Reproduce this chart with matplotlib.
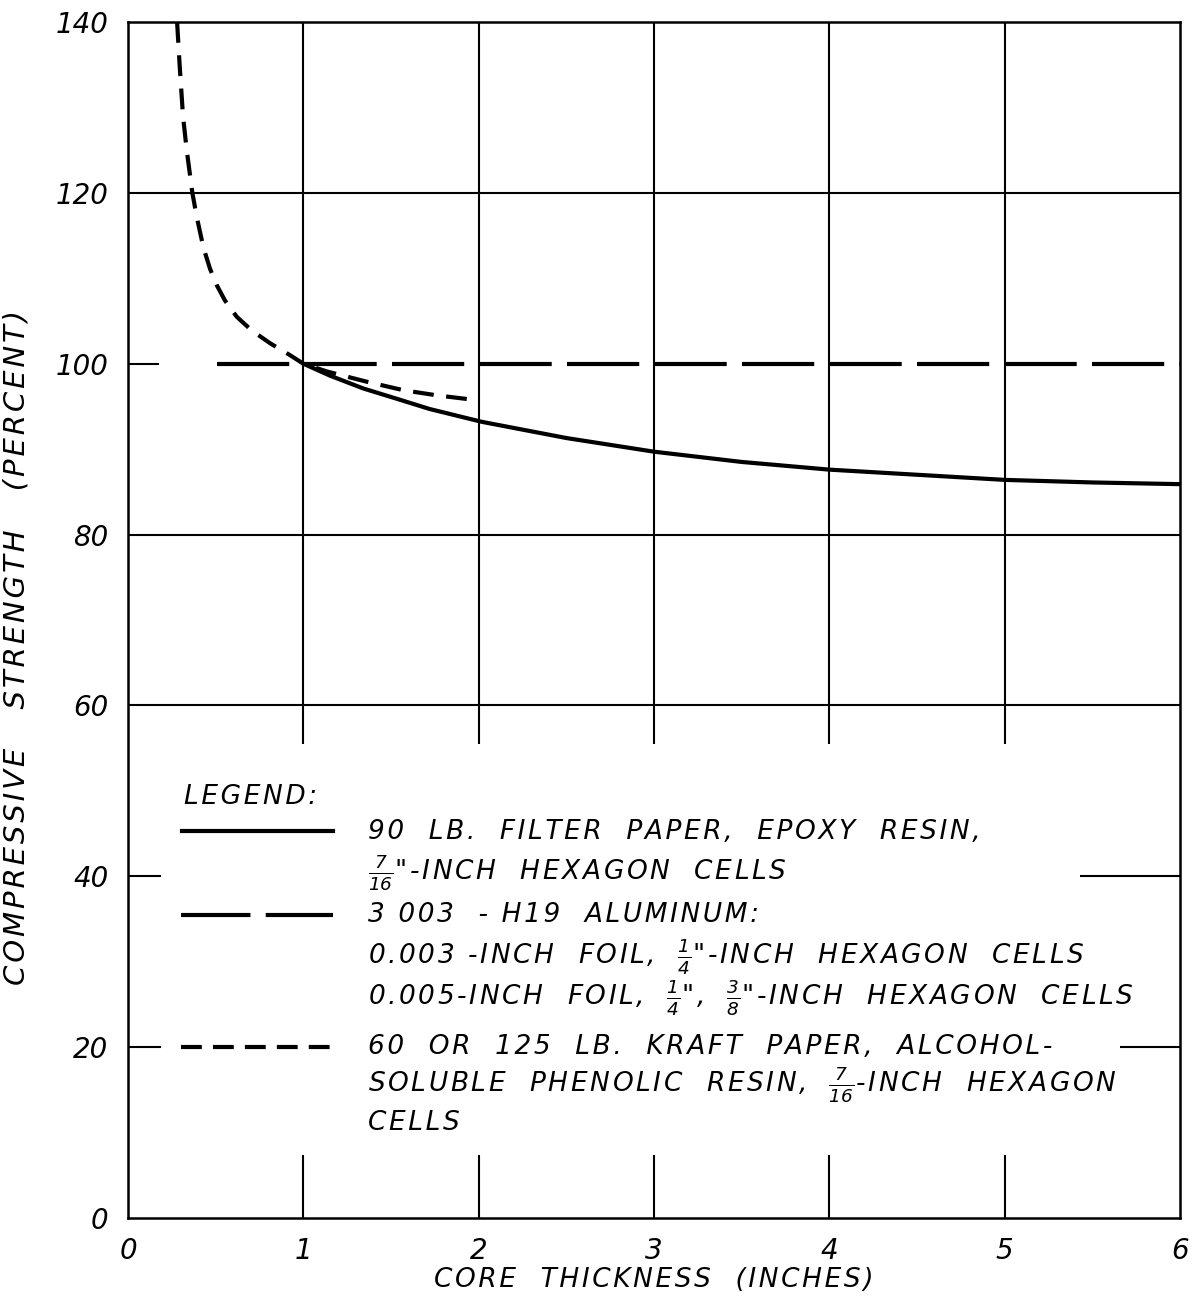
import matplotlib.pyplot as plt
from matplotlib.patches import Rectangle

plt.rcParams['font.family'] = ['DejaVu Sans']
plt.rcParams['font.style'] = 'italic'
plt.rcParams['mathtext.fontset'] = 'dejavusans'
plt.rcParams['mathtext.default'] = 'it'
plt.rcParams['lines.scale_dashes'] = False

# 90 lb filter paper, epoxy resin
filter_x = [1.0, 1.152, 1.342, 1.532, 1.72, 2.017, 2.5, 3.0, 3.5, 4.0, 4.5, 5.0, 5.5, 6.0]
filter_y = [100.0, 98.6, 97.1, 95.9, 94.7, 93.2, 91.3, 89.7, 88.5, 87.6, 87.0, 86.4, 86.1, 85.9]

# 3003-H19 aluminum
alum_x = [0.51, 6.0]
alum_y = [100.0, 100.0]

# 60 or 125 lb kraft paper, phenolic resin
kraft_x = [0.28, 0.295, 0.314, 0.335, 0.367, 0.392, 0.43, 0.468, 0.506, 0.553,
           0.62, 0.705, 0.81, 0.924, 1.0, 1.133, 1.36, 1.57, 1.76, 2.0]
kraft_y = [140.0, 134.8, 128.9, 125.0, 120.0, 117.2, 113.6, 111.1, 109.2, 107.4,
           105.5, 103.9, 102.4, 101.0, 100.0, 99.1, 97.9, 96.9, 96.3, 95.7]

x_ticks = [0, 1, 2, 3, 4, 5, 6]
y_ticks = [0, 20, 40, 60, 80, 100, 120, 140]

legend_lines = [
    "90  LB.  FILTER  PAPER,  EPOXY  RESIN,",
    r'$\frac{7}{16}$"-INCH  HEXAGON  CELLS',
    "3 003  - H19  ALUMINUM:",
    r'0.003 -INCH  FOIL,  $\frac{1}{4}$"-INCH  HEXAGON  CELLS',
    r'0.005-INCH  FOIL,  $\frac{1}{4}$",  $\frac{3}{8}$"-INCH  HEXAGON  CELLS',
    "60  OR  125  LB.  KRAFT  PAPER,  ALCOHOL-",
    r"SOLUBLE  PHENOLIC  RESIN,  $\frac{7}{16}$-INCH  HEXAGON",
    "CELLS",
]
legend_line_y = [45.2, 40.4, 35.5, 30.6, 25.8, 20.0, 15.6, 11.1]


def spaced(s, gap='\u200a'):
    # open up the lettering, leaving math parts alone
    parts = s.split('$')
    return '$'.join(gap.join(p) if i % 2 == 0 else p
                    for i, p in enumerate(parts))


fig = plt.figure(figsize=(11.94, 13.01), dpi=100)
ax = fig.add_axes([0.1072, 0.0638, 0.8811, 0.9193])

ax.set_xlim(0, 6)
ax.set_ylim(0, 140)
ax.set_xticks(x_ticks)
ax.set_yticks(y_ticks)
ax.set_xticklabels([str(v) for v in x_ticks], fontsize=20)
ax.set_yticklabels([str(v) for v in y_ticks], fontsize=20)
ax.tick_params(length=0, pad=14)

for s in ax.spines.values():
    s.set_linewidth(1.8)

# grid, broken where the legend sits
for xv in x_ticks[1:-1]:
    ax.axvline(xv, color='black', lw=1.5, zorder=1)
for yv in [20, 40, 60, 80, 120]:
    ax.axhline(yv, color='black', lw=1.5, zorder=1)
ax.plot([0, 0.17], [100, 100], color='black', lw=1.5, zorder=1)
ax.add_patch(Rectangle((0.19, 7.4), 5.24, 48.1, facecolor='white',
                       edgecolor='none', zorder=1.5))
ax.add_patch(Rectangle((5.4, 15), 0.26, 10, facecolor='white',
                       edgecolor='none', zorder=1.5))

ax.plot(filter_x, filter_y, color='black', lw=3.0, zorder=3,
        solid_capstyle='butt', solid_joinstyle='round')
ax.plot(alum_x, alum_y, color='black', lw=3.0, zorder=3,
        dashes=(52, 11), dash_capstyle='butt')
ax.plot(kraft_x, kraft_y, color='black', lw=3.0, zorder=3,
        dashes=(15, 9), dash_capstyle='butt')

ax.set_xlabel(spaced("CORE  THICKNESS  (INCHES)"), fontsize=19, labelpad=1)
ax.set_ylabel(spaced("COMPRESSIVE   STRENGTH   (PERCENT)"), fontsize=21)
ax.yaxis.set_label_coords(-0.093, 0.477)

# legend block
ax.text(0.32, 49.3, spaced("LEGEND:"), fontsize=19, va='center', zorder=4)
ax.plot([0.31, 1.17], [45.3, 45.3], color='black', lw=3.0, zorder=4)
ax.plot([0.30, 1.17], [35.5, 35.5], color='black', lw=3.0, zorder=4,
        dashes=(50, 11), dash_capstyle='butt')
ax.plot([0.30, 1.17], [20.0, 20.0], color='black', lw=3.0, zorder=4,
        dashes=(15, 8), dash_capstyle='butt')
for txt, yv in zip(legend_lines, legend_line_y):
    ax.text(1.37, yv, spaced(txt), fontsize=19, va='center', zorder=4)

fig.savefig("out.png", dpi=100)
